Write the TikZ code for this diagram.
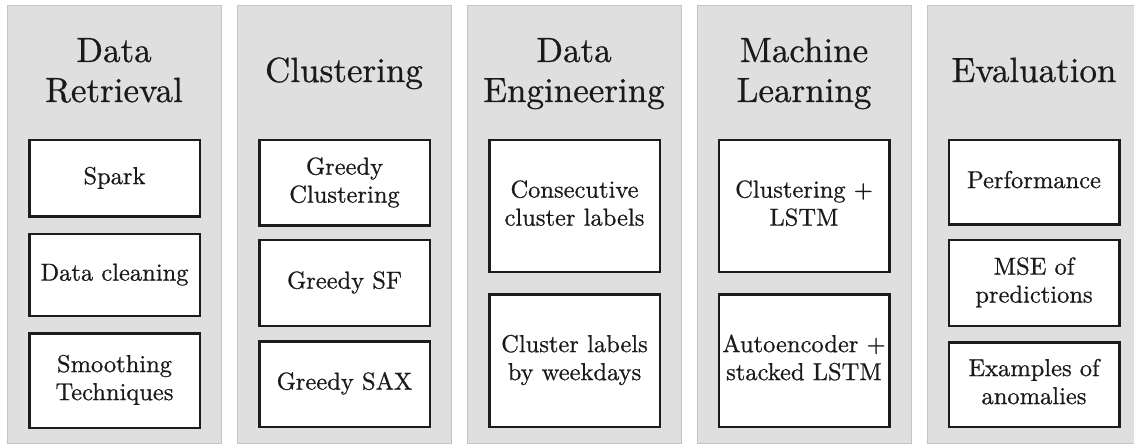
\documentclass[tikz,border=0pt]{standalone}
\usepackage{fontspec}
\setmainfont{lmroman10-regular}[Extension=.otf, FakeBold=0.7]
\definecolor{colfill}{HTML}{DFDFDF}
\definecolor{colline}{HTML}{C4C4C4}
\definecolor{boxline}{HTML}{1C1C1C}
\definecolor{txt}{HTML}{1A1A1A}
\newcommand\bstr{\rule[-8.4pt]{0pt}{28pt}}
\newcommand\tstr{\rule[-12pt]{0pt}{40pt}}
\tikzset{
  column/.style={fill=colfill, draw=colline, line width=1pt},
  stagebox/.style={draw=boxline, fill=white, line width=2.5pt, inner sep=0pt,
    minimum width=170.5pt, align=center, text=txt,
    font=\fontsize{24.5}{28}\selectfont},
  coltitle/.style={align=center, inner sep=0pt, text=txt,
    font=\fontsize{35}{40}\selectfont}
}
\begin{document}
\begin{tikzpicture}[x=1pt,y=-1pt]
\useasboundingbox (0,0) rectangle (1134,446);
\clip (0,0) rectangle (1134,446);
% columns
\foreach \i in {0,...,4}{
  \draw[column] (7+230*\i,6) rectangle (221+230*\i,443);
}
% titles
\node[coltitle] (t1) at (114,74) {Data\tstr\\Retrieval\tstr};
\node[coltitle] (t2) at (344,74) {Clustering\tstr};
\node[coltitle] (t3) at (574,74) {Data\tstr\\Engineering\tstr};
\node[coltitle] (t4) at (804,74) {Machine\tstr\\Learning\tstr};
\node[coltitle] (t5) at (1034,74) {Evaluation\tstr};
% column 1
\node[stagebox, minimum height=76.5pt] (a1) at (114.5,178.5) {Spark\bstr};
\node[stagebox, minimum height=81.5pt] (a2) at (114.5,275) {Data cleaning\bstr};
\node[stagebox, minimum height=94.5pt] (a3) at (114.5,380.5) {Smoothing\bstr\\Techniques\bstr};
% column 2
\node[stagebox, minimum height=85.5pt] (b1) at (344.5,183) {Greedy\bstr\\Clustering\bstr};
\node[stagebox, minimum height=85.5pt] (b2) at (344.5,283) {Greedy SF\bstr};
\node[stagebox, minimum height=85.5pt] (b3) at (344.5,384) {Greedy SAX\bstr};
% column 3
\node[stagebox, minimum height=131.5pt] (c1) at (574.5,206) {Consecutive\bstr\\cluster labels\bstr};
\node[stagebox, minimum height=132.5pt] (c2) at (574.5,360.5) {Cluster labels\bstr\\by weekdays\bstr};
% column 4
\node[stagebox, minimum height=131.5pt] (d1) at (804,206) {Clustering +\bstr\\LSTM\bstr};
\node[stagebox, minimum height=132.5pt] (d2) at (804,360.5) {Autoencoder +\bstr\\stacked LSTM\bstr};
% column 5
\node[stagebox, minimum height=84.5pt] (e1) at (1034,182.5) {Performance\bstr};
\node[stagebox, minimum height=85.5pt] (e2) at (1034,283) {MSE of\bstr\\predictions\bstr};
\node[stagebox, minimum height=84.5pt] (e3) at (1034,384.5) {Examples of\bstr\\anomalies\bstr};
\end{tikzpicture}
\end{document}
